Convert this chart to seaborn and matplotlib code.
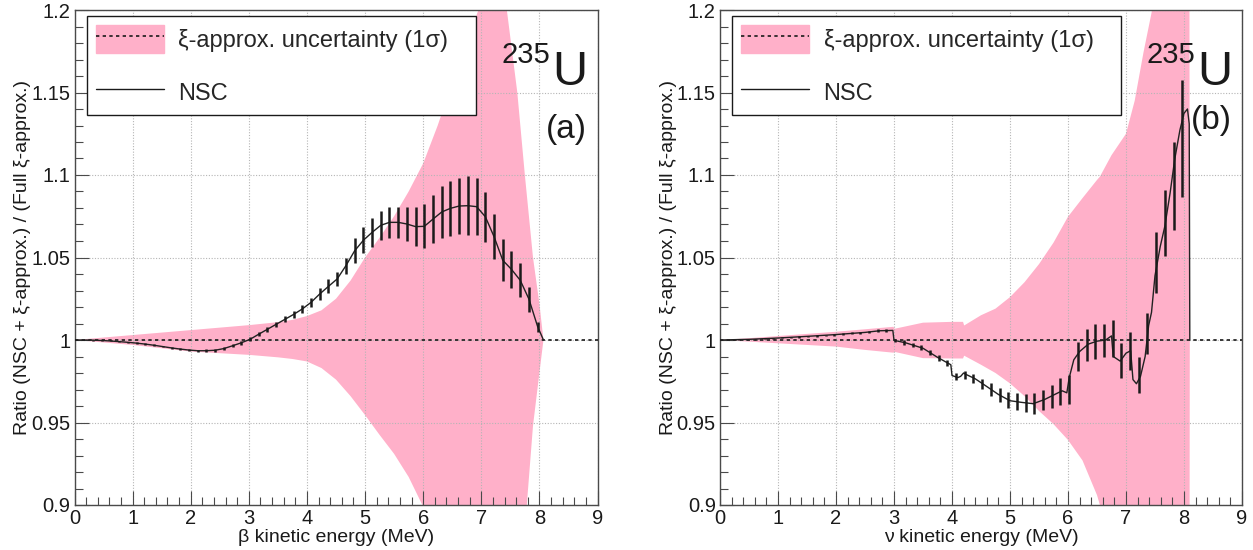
import matplotlib
matplotlib.use("Agg")
import matplotlib.pyplot as plt
import seaborn as sns
from matplotlib.patches import Patch
from matplotlib.lines import Line2D
from matplotlib.ticker import MultipleLocator, FixedLocator
from matplotlib.legend_handler import HandlerTuple

# ---- data ----
# energies where the NSC error bars sit (same grid in both panels)
bar_e = [0.02, 0.17, 0.32, 0.47, 0.62, 0.77, 0.92, 1.07, 1.22, 1.37,
         1.52, 1.67, 1.82, 1.97, 2.12, 2.27, 2.42, 2.57, 2.72, 2.87,
         3.02, 3.17, 3.32, 3.47, 3.62, 3.77, 3.92, 4.07, 4.22, 4.37,
         4.52, 4.67, 4.82, 4.97, 5.12, 5.27, 5.42, 5.57, 5.72, 5.87,
         6.02, 6.17, 6.32, 6.47, 6.62, 6.77, 6.92, 7.07, 7.22, 7.37,
         7.52, 7.67, 7.82, 7.97]

# (a) beta spectrum
nsc_beta = [1.0000, 1.0000, 0.9999, 0.9997, 0.9994, 0.9990, 0.9986, 0.9981, 0.9975, 0.9968,
            0.9960, 0.9952, 0.9945, 0.9939, 0.9935, 0.9935, 0.9938, 0.9948, 0.9965, 0.9983,
            1.0004, 1.0035, 1.0065, 1.0095, 1.0125, 1.0155, 1.0188, 1.0228, 1.0279, 1.0325,
            1.0370, 1.0450, 1.0540, 1.0604, 1.0652, 1.0695, 1.0713, 1.0713, 1.0703, 1.0687,
            1.0689, 1.0733, 1.0776, 1.0798, 1.0812, 1.0814, 1.0808, 1.0747, 1.0626, 1.0483,
            1.0428, 1.0362, 1.0248, 1.0081]
err_beta = [0.0002, 0.0002, 0.0003, 0.0003, 0.0003, 0.0004, 0.0004, 0.0004, 0.0005, 0.0005,
            0.0005, 0.0006, 0.0006, 0.0007, 0.0007, 0.0008, 0.0008, 0.0009, 0.0010, 0.0011,
            0.0012, 0.0013, 0.0015, 0.0016, 0.0018, 0.0020, 0.0022, 0.0025, 0.0035, 0.0042,
            0.0045, 0.0048, 0.0076, 0.0079, 0.0086, 0.0089, 0.0096, 0.0096, 0.0106, 0.0117,
            0.0133, 0.0146, 0.0159, 0.0168, 0.0172, 0.0177, 0.0172, 0.0152, 0.0137, 0.0128,
            0.0114, 0.0103, 0.0076, 0.0030]
beta_endpoint = 8.07

band_beta_e = [0.0, 0.5, 1.0, 1.5, 2.0, 2.5, 3.0, 3.5, 3.75, 4.0, 4.25, 4.5, 4.75,
               5.0, 5.25, 5.5, 5.75, 6.0, 6.25, 6.5, 6.75, 6.95, 7.2, 7.44, 7.62,
               7.75, 7.89, 8.0, 8.07]
band_beta_hi = [1.0, 1.0015, 1.003, 1.0045, 1.006, 1.0075, 1.009, 1.0108, 1.0122, 1.0145, 1.018, 1.025, 1.036,
                1.050, 1.062, 1.075, 1.090, 1.107, 1.130, 1.156, 1.180, 1.200, 1.260, 1.200, 1.150,
                1.100, 1.050, 1.022, 1.000]
band_beta_lo = [1.0, 0.9985, 0.997, 0.995, 0.993, 0.992, 0.991, 0.9895, 0.9885, 0.987, 0.983, 0.976, 0.966,
                0.9545, 0.9425, 0.931, 0.917, 0.899, 0.880, 0.870, 0.860, 0.850, 0.840, 0.845, 0.860,
                0.885, 0.948, 0.980, 1.000]

# (b) antineutrino spectrum
nsc_nu = [1.0000, 1.0001, 1.0002, 1.0004, 1.0006, 1.0008, 1.0010, 1.0013, 1.0016, 1.0019,
          1.0022, 1.0025, 1.0028, 1.0032, 1.0036, 1.0040, 1.0044, 1.0049, 1.0055, 1.0058,
          0.9997, 0.9985, 0.9970, 0.9952, 0.9925, 0.9892, 0.9860, 0.9780, 0.9790, 0.9766,
          0.9735, 0.9700, 0.9668, 0.9636, 0.9626, 0.9620, 0.9614, 0.9636, 0.9660, 0.9688,
          0.9700, 0.9900, 0.9970, 0.9992, 0.9998, 1.0010, 0.9875, 0.9935, 0.9788, 1.0040,
          1.0470, 1.0707, 1.0935, 1.1220]
err_nu = [0.0002, 0.0002, 0.0002, 0.0002, 0.0003, 0.0003, 0.0003, 0.0003, 0.0004, 0.0004,
          0.0004, 0.0005, 0.0005, 0.0005, 0.0006, 0.0006, 0.0007, 0.0008, 0.0009, 0.0010,
          0.0012, 0.0013, 0.0014, 0.0015, 0.0017, 0.0018, 0.0020, 0.0022, 0.0024, 0.0026,
          0.0030, 0.0038, 0.0044, 0.0046, 0.0050, 0.0055, 0.0064, 0.0062, 0.0070, 0.0080,
          0.0090, 0.0085, 0.0095, 0.0106, 0.0100, 0.0110, 0.0106, 0.0116, 0.0110, 0.0126,
          0.0187, 0.0200, 0.0268, 0.0354]

# the NSC curve in (b) is jumpy, so it has its own finer trace
line_nu_e = [0.0, 0.5, 1.0, 1.5, 2.0, 2.5, 2.75, 2.98, 3.00, 3.2, 3.5, 3.75, 3.98, 4.00,
             4.1, 4.15, 4.2, 4.25, 4.4, 4.6, 4.8, 5.0, 5.2, 5.4, 5.6, 5.8, 5.9, 5.98,
             6.02, 6.1, 6.2, 6.35, 6.5, 6.65, 6.75, 6.78, 6.9, 7.0, 7.08, 7.12, 7.18,
             7.25, 7.33, 7.39, 7.44, 7.50, 7.59, 7.67, 7.76, 7.84, 7.93, 8.00, 8.06,
             8.09, 8.10]
line_nu = [1.0000, 1.0004, 1.0012, 1.0022, 1.0033, 1.0046, 1.0056, 1.0058, 0.9998, 0.9983,
           0.9950, 0.9895, 0.9850, 0.9785, 0.9772, 0.9780, 0.9800, 0.9790, 0.9765, 0.9718,
           0.9670, 0.9632, 0.9622, 0.9614, 0.9640, 0.9675, 0.9692, 0.9680, 0.9770, 0.9880,
           0.9930, 0.9975, 0.9993, 1.0000, 1.0025, 0.9900, 0.9872, 0.9920, 0.9935, 0.9760,
           0.9735, 0.9780, 0.9900, 1.0087, 1.0168, 1.0390, 1.0566, 1.0690, 1.0890, 1.1095,
           1.1273, 1.1374, 1.1400, 1.1310, 1.0000]

band_nu_e = [0.0, 0.5, 1.0, 1.5, 2.0, 2.5, 2.99, 3.01, 3.5, 4.0, 4.19, 4.21,
             4.5, 4.75, 5.0, 5.25, 5.5, 5.75, 6.0, 6.25, 6.5, 6.55, 6.75, 7.0,
             7.15, 7.3, 7.45, 7.6, 8.09, 8.1]
band_nu_hi = [1.0, 1.0011, 1.0024, 1.0037, 1.005, 1.0065, 1.008, 1.0068, 1.0105, 1.011, 1.011, 1.0088,
              1.015, 1.019, 1.026, 1.035, 1.046, 1.059, 1.0747, 1.086, 1.097, 1.099, 1.112, 1.125,
              1.145, 1.174, 1.200, 1.250, 1.350, 1.0]
band_nu_lo = [1.0, 0.999, 0.998, 0.997, 0.996, 0.994, 0.9923, 0.9928, 0.989, 0.9888, 0.9888, 0.9905,
              0.985, 0.980, 0.9737, 0.966, 0.957, 0.949, 0.9394, 0.927, 0.906, 0.900, 0.870, 0.850,
              0.835, 0.820, 0.800, 0.780, 0.700, 1.0]

yticks = [0.9, 0.95, 1.0, 1.05, 1.1, 1.15, 1.2]
ytick_labels = ["0.9", "0.95", "1", "1.05", "1.1", "1.15", "1.2"]
xticks = [0, 1, 2, 3, 4, 5, 6, 7, 8, 9]

PINK = "#ffb0c9"
FRAME = "#4a4a4a"

sns.set_theme(style="white")
plt.rcParams["font.family"] = ["Liberation Sans", "DejaVu Sans"]

fig = plt.figure(figsize=(12.53, 5.5), dpi=100)
ax_a = fig.add_axes([74.5 / 1253, 45 / 550, 523 / 1253, 495 / 550])
ax_b = fig.add_axes([720 / 1253, 45 / 550, 522 / 1253, 495 / 550])


def draw_panel(ax, band_e, band_lo, band_hi, line_e, line_y, bar_y, bar_err, xlabel, tag):
    ax.fill_between(band_e, band_lo, band_hi, color=PINK, lw=0, zorder=1)
    ax.axhline(1.0, color="k", ls=(0, (2, 2)), lw=1.2, zorder=3)
    sns.lineplot(x=line_e, y=line_y, ax=ax, color="#222222", lw=1.0,
                 estimator=None, sort=False, zorder=4)
    ax.errorbar(bar_e, bar_y, yerr=bar_err, fmt="none", ecolor="k",
                elinewidth=1.8, capsize=0, zorder=5)

    ax.set_xlim(0, 9)
    ax.set_ylim(0.9, 1.2)
    ax.xaxis.set_major_locator(FixedLocator(xticks))
    ax.xaxis.set_minor_locator(MultipleLocator(0.2))
    ax.yaxis.set_major_locator(FixedLocator(yticks))
    ax.yaxis.set_minor_locator(MultipleLocator(0.01))
    ax.set_xticklabels([str(t) for t in xticks])
    ax.set_yticklabels(ytick_labels)
    ax.tick_params(which="both", direction="in", bottom=True, left=True,
                   top=False, right=False, color=FRAME, width=0.8,
                   labelsize=14.5, labelcolor="k")
    ax.tick_params(which="major", length=10, pad=3)
    ax.tick_params(which="minor", length=5.5)
    ax.grid(True, which="major", color="#b5b5b5", ls=(0, (1, 1.5)), lw=0.8)
    ax.set_axisbelow("line")
    for sp in ax.spines.values():
        sp.set_color(FRAME)
        sp.set_linewidth(1.0)

    ax.set_xlabel(xlabel, fontsize=14, color="k")
    ax.set_ylabel("Ratio (NSC + ξ-approx.) / (Full ξ-approx.)", fontsize=14, color="k")
    ax.xaxis.set_label_coords(0.5, -0.048)
    ax.yaxis.set_label_coords(-0.083, 0.5)

    handles = [(Patch(facecolor=PINK, edgecolor=PINK),
                Line2D([], [], color="k", ls=(0, (2, 2)), lw=1.2)),
               Line2D([], [], color="k", lw=1.0)]
    leg = ax.legend(handles, ["ξ-approx. uncertainty (1σ)", "NSC"],
                    handler_map={tuple: HandlerTuple(ndivide=1)},
                    loc="upper left", bbox_to_anchor=(0.023, 0.788, 0.745, 0.2),
                    mode="expand", fontsize=17, frameon=True, fancybox=False,
                    edgecolor="k", framealpha=1, borderpad=0.38, labelspacing=1.05,
                    handlelength=2.9, handleheight=1.45, handletextpad=0.6,
                    borderaxespad=0)
    leg.get_frame().set_linewidth(1.0)

    ax.text(0.91, 0.893, "235", transform=ax.transAxes, ha="right", va="baseline",
            fontsize=21, color="k")
    ax.text(0.914, 0.848, "U", transform=ax.transAxes, ha="left", va="baseline",
            fontsize=35, color="k")
    ax.text(0.98, 0.758, tag, transform=ax.transAxes, ha="right", va="center",
            fontsize=24, color="k")


line_beta_e = [0.0] + bar_e + [beta_endpoint]
line_beta = [1.0] + nsc_beta + [1.0]

draw_panel(ax_a, band_beta_e, band_beta_lo, band_beta_hi, line_beta_e, line_beta,
           nsc_beta, err_beta, "β kinetic energy (MeV)", "(a)")
draw_panel(ax_b, band_nu_e, band_nu_lo, band_nu_hi, line_nu_e, line_nu,
           nsc_nu, err_nu, "ν kinetic energy (MeV)", "(b)")
ax_b.texts[-1].set_position((0.981, 0.776))

fig.savefig("out.png", dpi=100)
